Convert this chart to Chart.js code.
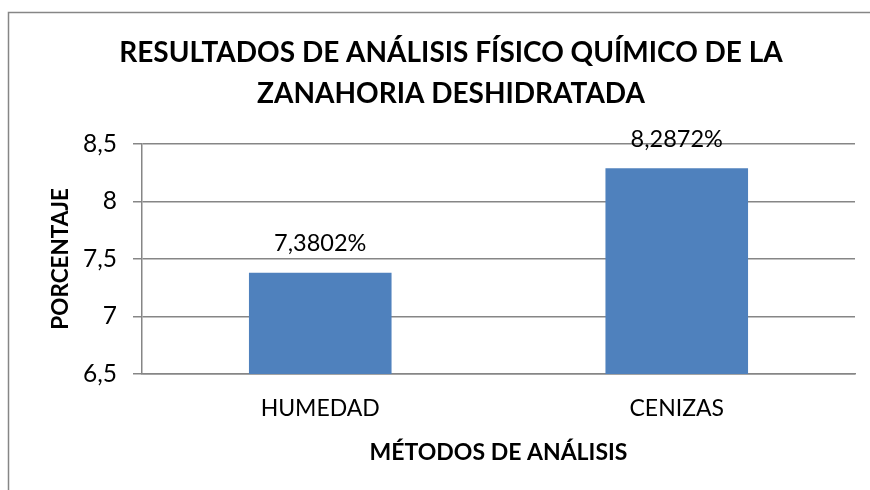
<!DOCTYPE html>
<html>
<head>
<meta charset="utf-8">
<script src="https://cdn.jsdelivr.net/npm/chart.js@4/dist/chart.umd.min.js"></script>
<style>
  html, body { margin: 0; padding: 0; background: #fff; }
  #wrap { width: 870px; height: 490px; }
</style>
</head>
<body>
<div id="wrap"><canvas id="chart"></canvas></div>
<script>
const categories = ['HUMEDAD', 'CENIZAS'];
const values = [7.3802, 8.2872];
const valueLabels = ['7,3802%', '8,2872%'];
const titleLines = ['RESULTADOS DE ANÁLISIS FÍSICO QUÍMICO DE LA', 'ZANAHORIA DESHIDRATADA'];

const axisGray = '#868686';
const font = 'Lato';

// outer frame of the chart box (cut off on right and bottom)
const framePlugin = {
    id: 'frame',
    beforeDraw(chart) {
        const ctx = chart.ctx;
        ctx.save();
        ctx.fillStyle = '#fff';
        ctx.fillRect(0, 0, chart.width, chart.height);
        ctx.strokeStyle = axisGray;
        ctx.lineWidth = 1.5;
        ctx.strokeRect(8.5, 12.5, 900, 520);
        ctx.restore();
    }
};

// value labels above the bars
const labelPlugin = {
    id: 'valueLabels',
    afterDatasetsDraw(chart) {
        const ctx = chart.ctx;
        const meta = chart.getDatasetMeta(0);
        ctx.save();
        ctx.font = '23.5px ' + font;
        ctx.fillStyle = '#000';
        ctx.textAlign = 'center';
        ctx.textBaseline = 'middle';
        meta.data.forEach((bar, i) => {
            ctx.fillText(valueLabels[i], bar.x, bar.y - 29);
        });
        ctx.restore();
    }
};

new Chart(document.getElementById('chart'), {
    type: 'bar',
    data: {
        labels: categories,
        datasets: [{
            data: values,
            backgroundColor: '#4F81BD',
            borderWidth: 0,
            barPercentage: 0.4,
            categoryPercentage: 1
        }]
    },
    options: {
        responsive: true,
        maintainAspectRatio: false,
        animation: false,
        layout: { padding: { left: 47, right: 15, top: 33, bottom: 26 } },
        plugins: {
            legend: { display: false },
            tooltip: { enabled: false },
            title: {
                display: true,
                text: titleLines,
                color: '#000',
                font: { family: font, size: 28, weight: 'bold', lineHeight: 1.46 },
                padding: { top: 0, bottom: 29 }
            }
        },
        scales: {
            x: {
                afterFit: s => { s.height = 90; },
                grid: { display: false, drawTicks: false },
                border: { color: axisGray, width: 1.5 },
                ticks: { color: '#000', font: { family: font, size: 23 }, padding: 21 },
                title: {
                    display: true,
                    text: 'MÉTODOS DE ANÁLISIS',
                    color: '#000',
                    font: { family: font, size: 23, weight: 'bold', lineHeight: 1 },
                    padding: { top: 0, bottom: 0 }
                }
            },
            y: {
                afterFit: s => { s.width = 95; },
                min: 6.5,
                max: 8.5,
                ticks: {
                    stepSize: 0.5,
                    color: '#000',
                    font: { family: font, size: 24.5 },
                    padding: 16,
                    callback: v => String(v).replace('.', ',')
                },
                grid: { color: axisGray, lineWidth: 1.5, tickLength: 9 },
                border: { color: axisGray, width: 1.5 },
                title: {
                    display: true,
                    text: 'PORCENTAJE',
                    color: '#000',
                    font: { family: font, size: 22.5, weight: 'bold', lineHeight: 1.2 },
                    padding: { top: 0, bottom: 0 }
                }
            }
        }
    },
    plugins: [framePlugin, labelPlugin]
});
</script>
</body>
</html>
